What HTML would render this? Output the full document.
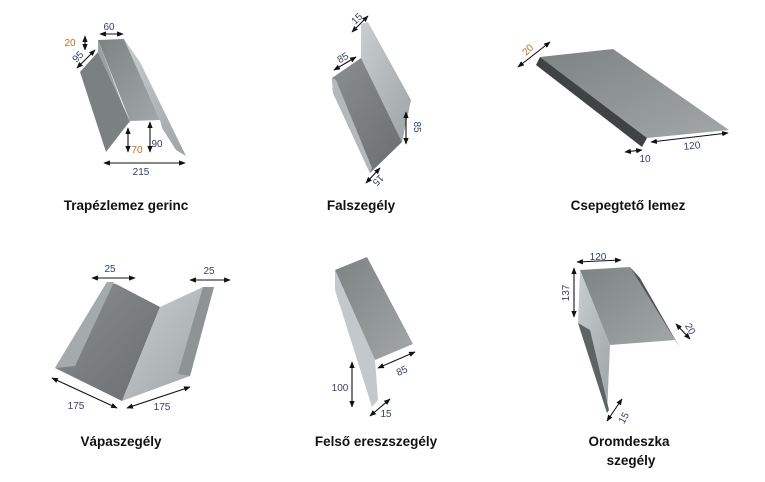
<!DOCTYPE html>
<html><head><meta charset="utf-8"><style>
html,body{margin:0;padding:0;background:#fff}
svg{display:block}
.t{font-family:"Liberation Sans",sans-serif;font-weight:bold;font-size:13.5px;fill:#111;text-anchor:middle}
.d{font-family:"Liberation Sans",sans-serif;font-size:10px;fill:#34426a;text-anchor:middle}
.o{fill:#c46a28}
.a{stroke:#111;stroke-width:1.1;fill:none;marker-start:url(#m);marker-end:url(#m)}
</style></head><body>
<svg width="765" height="482" viewBox="0 0 765 482" xmlns="http://www.w3.org/2000/svg">
<defs>
<marker id="m" viewBox="0 0 10 10" refX="9" refY="5" markerWidth="6" markerHeight="6" orient="auto-start-reverse"><path d="M0,1 L10,5 L0,9 z" fill="#111"/></marker>
<linearGradient id="g1" x1="0" y1="0" x2="1" y2="1"><stop offset="0" stop-color="#8a8e8f"/><stop offset="1" stop-color="#6a6e70"/></linearGradient>
<linearGradient id="g2" x1="0" y1="0" x2="1" y2="1"><stop offset="0" stop-color="#c9ced0"/><stop offset="1" stop-color="#9ea3a5"/></linearGradient>
<linearGradient id="g3" x1="0" y1="0" x2="1" y2="1"><stop offset="0" stop-color="#7d8283"/><stop offset="1" stop-color="#a3a7a8"/></linearGradient>
</defs>

<!-- Trapézlemez gerinc -->
<polygon points="80,72 98,52 130,121 106,152" fill="#7b8081"/>
<polygon points="98,40 124,39 160,120 130,121" fill="url(#g3)"/>
<polygon points="124,39 140,62 186,156 176,150 162,128 160,120" fill="url(#g2)"/>
<polygon points="98,40 98,52 130,121 130,124" fill="#9ca0a1"/>
<line class="a" x1="100" y1="34" x2="123" y2="34"/>
<line class="a" x1="85" y1="36" x2="85" y2="50"/>
<line class="a" x1="77" y1="68" x2="95" y2="50"/>
<line class="a" x1="128" y1="128" x2="128" y2="152"/>
<line class="a" x1="150" y1="122" x2="150" y2="152"/>
<line class="a" x1="104" y1="163" x2="185" y2="163"/>
<text class="d" x="109" y="30">60</text>
<text class="d o" x="70" y="46">20</text>
<text class="d" x="78" y="60" transform="rotate(-45 78 57)">95</text>
<text class="d o" x="137" y="153">70</text>
<text class="d" x="157" y="147">90</text>
<text class="d" x="141" y="175">215</text>
<text class="t" x="126" y="210">Trapézlemez gerinc</text>

<!-- Falszegély -->
<polygon points="361,24 368,22 411,100 402,142 361,58" fill="url(#g2)"/>
<polygon points="332,78 361,58 402,142 370,173 333,93" fill="url(#g1)"/>
<polygon points="332,78 336,80 372,168 370,173 333,93" fill="#b3b8ba"/>
<line class="a" x1="352" y1="32" x2="368" y2="16"/>
<line class="a" x1="334" y1="70" x2="356" y2="57"/>
<line class="a" x1="406" y1="112" x2="406" y2="144"/>
<line class="a" x1="366" y1="183" x2="380" y2="168"/>
<text class="d" x="357" y="22" transform="rotate(-45 357 19)">15</text>
<text class="d" x="343" y="61" transform="rotate(-30 343 58)">85</text>
<text class="d" x="414" y="127" transform="rotate(90 414 127)">85</text>
<text class="d" x="378" y="183" transform="rotate(135 378 180)">15</text>
<text class="t" x="361" y="210">Falszegély</text>

<!-- Csepegtető lemez -->
<polygon points="540,57 613,49 729,130 647,138" fill="url(#g3)"/>
<polygon points="536,65 540,57 647,138 642,147" fill="#3f4344"/>
<line class="a" x1="518" y1="67" x2="550" y2="42"/>
<line class="a" x1="625" y1="152" x2="642" y2="150"/>
<line class="a" x1="651" y1="142" x2="728" y2="133"/>
<text class="d o" x="528" y="53" transform="rotate(-45 528 50)">20</text>
<text class="d" x="645" y="162">10</text>
<text class="d" x="692" y="149" transform="rotate(-6 692 146)">120</text>
<text class="t" x="628" y="210">Csepegtető lemez</text>

<!-- Vápaszegély -->
<polygon points="55,368 107,282 116,284 160,307 122,401" fill="url(#g1)"/>
<polygon points="55,368 107,282 114,282 75,366" fill="#a5aaac"/>
<polygon points="122,401 160,307 203,287 214,287 190,376" fill="url(#g2)"/>
<polygon points="203,287 214,287 190,376 178,374" fill="#8e9394"/>
<line class="a" x1="92" y1="278" x2="135" y2="278"/>
<line class="a" x1="190" y1="280" x2="230" y2="280"/>
<line class="a" x1="52" y1="378" x2="117" y2="408"/>
<line class="a" x1="127" y1="408" x2="190" y2="387"/>
<text class="d" x="110" y="272">25</text>
<text class="d" x="209" y="274">25</text>
<text class="d" x="76" y="409">175</text>
<text class="d" x="162" y="410">175</text>
<text class="t" x="121" y="446">Vápaszegély</text>

<!-- Felső ereszszegély -->
<polygon points="335,270 367,257 413,344 375,360" fill="url(#g3)"/>
<polygon points="335,270 375,360 378,400 372,407 335,290" fill="#c2c8cb"/>
<line class="a" x1="352" y1="362" x2="352" y2="407"/>
<line class="a" x1="378" y1="368" x2="415" y2="352"/>
<line class="a" x1="370" y1="416" x2="390" y2="399"/>
<text class="d" x="340" y="391">100</text>
<text class="d" x="402" y="374" transform="rotate(-25 402 371)">85</text>
<text class="d" x="386" y="417">15</text>
<text class="t" x="376" y="446">Felső ereszszegély</text>

<!-- Oromdeszka szegély -->
<polygon points="580,270 630,267 675,340 610,345" fill="url(#g3)"/>
<polygon points="630,267 640,278 680,348 675,340" fill="#4f5455"/>
<polygon points="580,270 610,345 607,413 578,323" fill="url(#g2)"/>
<polygon points="578,323 590,330 609,410 607,413" fill="#5e6364"/>
<line class="a" x1="577" y1="262" x2="621" y2="260"/>
<line class="a" x1="574" y1="268" x2="574" y2="317"/>
<line class="a" x1="676" y1="324" x2="690" y2="339"/>
<line class="a" x1="607" y1="421" x2="622" y2="399"/>
<text class="d" x="598" y="260">120</text>
<text class="d" x="566" y="296" transform="rotate(-90 566 293)">137</text>
<text class="d" x="690" y="332" transform="rotate(60 690 329)">20</text>
<text class="d" x="624" y="421" transform="rotate(-60 624 418)">15</text>
<text class="t" x="629" y="446">Oromdeszka</text>
<text class="t" x="631" y="465">szegély</text>
</svg>
</body></html>
